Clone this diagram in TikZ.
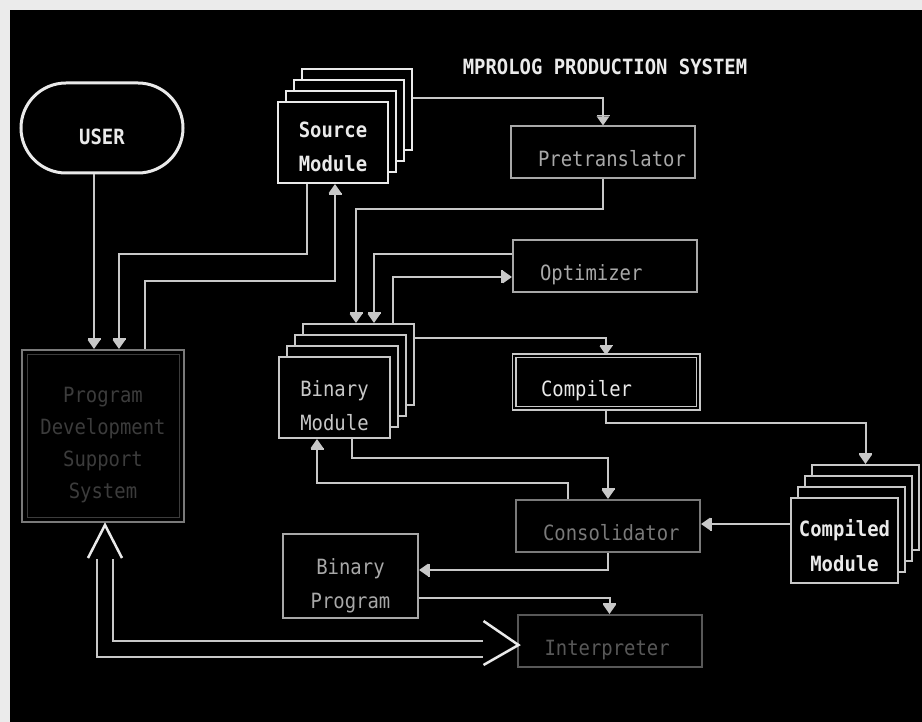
\documentclass[tikz,border=0pt]{standalone}
\usepackage{fontspec}
\newfontfamily\dosfont[FakeStretch=0.9]{DejaVu Sans Mono}
\usetikzlibrary{arrows.meta,shapes.misc}
\definecolor{bright}{HTML}{EAEAEA}
\definecolor{lgray}{HTML}{C8C8C8}
\definecolor{mgray}{HTML}{A8A8A8}
\definecolor{dgray}{HTML}{7A7A7A}
\definecolor{vdgray}{HTML}{585858}
\definecolor{faint}{HTML}{3C3C3C}
\tikzset{
  dos/.style={font=\dosfont\fontsize{21}{34}\selectfont},
  ln/.style={draw=lgray, line width=2pt},
  arr/.style={ln, -{Bar[width=13pt,line width=1.6pt]Triangle[width=12pt,length=9pt]}},
  procbox/.style={draw, fill=black, line width=2pt, minimum width=184pt, minimum height=52pt,
    inner sep=0pt, text width=130pt, align=left, text height=29pt, text depth=0pt, dos},
  modbox/.style={draw, fill=black, line width=2pt, inner sep=0pt, align=center, dos,
    text height=20pt, text depth=24pt},
  chev/.style={draw=bright, line width=2.5pt, line join=miter},
  dbl/.style={draw=lgray, line width=2pt, double=black, double distance=14pt}
}
\begin{document}
\begin{tikzpicture}[x=1pt,y=-1pt]
\useasboundingbox (0,0) rectangle (922,722);
\fill[white!92!black] (0,0) rectangle (922,722);
\fill[black] (10,10) rectangle (922,722);

% title
\node[dos, font=\dosfont\bfseries\fontsize{21}{24}\selectfont, text=bright] (title) at (605,67) {MPROLOG PRODUCTION SYSTEM};

% USER
\node[rounded rectangle, draw=bright, line width=3pt, minimum width=162pt, minimum height=90pt,
  inner sep=0pt, dos, font=\dosfont\bfseries\fontsize{21}{24}\selectfont, text=bright,
  text height=34pt, text depth=0pt] (user) at (102,128) {USER};

% Source Module stack
\node[modbox, draw=bright, minimum width=110pt, minimum height=81pt] (src3) at (357,109.5) {};
\node[modbox, draw=bright, minimum width=110pt, minimum height=81pt] (src2) at (349,120.5) {};
\node[modbox, draw=bright, minimum width=110pt, minimum height=81pt] (src1) at (341,131.5) {};
\node[modbox, draw=bright, minimum width=110pt, minimum height=81pt, text=bright,
  font=\dosfont\bfseries\fontsize{21}{34}\selectfont, text height=59pt, text depth=0pt] (src) at (333,142.5) {Source\\Module};

% process boxes
\node[procbox, draw=mgray, text=mgray] (pre) at (603,152.5) {Pretranslator};
\node[procbox, draw=mgray, text=mgray] (opt) at (605,266.5) {Optimizer};
\node[procbox, draw=lgray, text=bright, line width=1.5pt, double=black, double distance=2pt] (comp) at (606,382) {Compiler};
\node[procbox, draw=dgray, text=dgray] (cons) at (608,526) {Consolidator};
\node[procbox, draw=vdgray, text=vdgray] (interp) at (609.5,641) {Interpreter};

% Binary Module stack
\node[modbox, draw=lgray, minimum width=111pt, minimum height=81pt] (bin3) at (358.5,364.5) {};
\node[modbox, draw=lgray, minimum width=111pt, minimum height=81pt] (bin2) at (350.5,375.5) {};
\node[modbox, draw=lgray, minimum width=111pt, minimum height=81pt] (bin1) at (342.5,386.5) {};
\node[modbox, draw=lgray, minimum width=111pt, minimum height=81pt, text=lgray, text height=66pt, text depth=0pt] (bin) at (334.5,397.5) {Binary\\Module};

% Compiled Module stack
\node[modbox, draw=lgray, minimum width=107pt, minimum height=85pt] (cm3) at (865.5,507.5) {};
\node[modbox, draw=lgray, minimum width=107pt, minimum height=85pt] (cm2) at (858.5,518.5) {};
\node[modbox, draw=lgray, minimum width=107pt, minimum height=85pt] (cm1) at (851.5,529.5) {};
\node[modbox, draw=lgray, minimum width=107pt, minimum height=85pt, text=bright,
  font=\dosfont\bfseries\fontsize{21}{35}\selectfont, text height=61pt, text depth=0pt] (cm) at (844.5,540.5) {Compiled\\Module};

% Binary Program
\node[modbox, draw=mgray, text=mgray, minimum width=135pt, minimum height=84pt,
  text height=64pt, text depth=0pt] (bp) at (350.5,576) {Binary\\Program};

% Program Development Support System
\node[modbox, draw=dgray, text=faint, minimum width=162pt, minimum height=172pt,
  font=\dosfont\fontsize{21}{32}\selectfont, text height=124pt, text depth=0pt] (pdss) at (103,436)
  {Program\\Development\\Support\\System};
\draw[draw=faint, line width=1pt] ([shift={(6pt,-6pt)}]pdss.north west) rectangle ([shift={(-6pt,6pt)}]pdss.south east);

% connectors
\draw[arr] ([xshift=-8pt]user.south) -- ([xshift=-8pt]user.south |- pdss.north);
\draw[arr] ([xshift=-26pt]src.south) -- ++(0,70) -| ([xshift=16pt]pdss.north);
\draw[arr] ([xshift=42pt]pdss.north) -- ++(0,-68) -| ([xshift=2pt]src.south);
\draw[arr] ([yshift=11.5pt]src3.east) -| (pre.north);
\draw[arr] (pre.south) -- ++(0,30) -| ([xshift=-2.5pt]bin3.north);
\draw[arr] ([yshift=12.5pt]opt.west) -| ([xshift=15.5pt]bin3.north);
\draw[arr] ([xshift=34.5pt]bin3.north) |- ([yshift=-10.5pt]opt.west);
\draw[arr] ([yshift=26.5pt]bin3.east) -| (comp.north);
\draw[arr] (comp.south) -- ++(0,14) -| (cm3.north);
\draw[arr] ([yshift=16.5pt]cm.west) -- ([yshift=16.5pt]cm.west -| cons.east);
\draw[arr] ([xshift=17.5pt]bin.south) -- ++(0,19) -| (cons.north);
\draw[arr] ([xshift=-40pt]cons.north) -- ++(0,-16) -| ([xshift=-17.5pt]bin.south);
\draw[arr] (cons.south) |- ([yshift=6pt]bp.east);
\draw[arr] ([yshift=-22pt]bp.east) -| (interp.north);

% wide double connector between PDSS and Interpreter
\draw[dbl] ([xshift=2pt,yshift=-36pt]pdss.south) |- ([xshift=-34pt,yshift=-8pt]interp.west);
\draw[chev] ([xshift=-15pt,yshift=-35pt]pdss.south) -- ([xshift=2pt,yshift=-2pt]pdss.south) -- ([xshift=19pt,yshift=-35pt]pdss.south);
\draw[chev] ([xshift=-33pt,yshift=20pt]interp.west) -- ([xshift=2pt,yshift=-4pt]interp.west) -- ([xshift=-33pt,yshift=-24pt]interp.west);
\end{tikzpicture}
\end{document}
